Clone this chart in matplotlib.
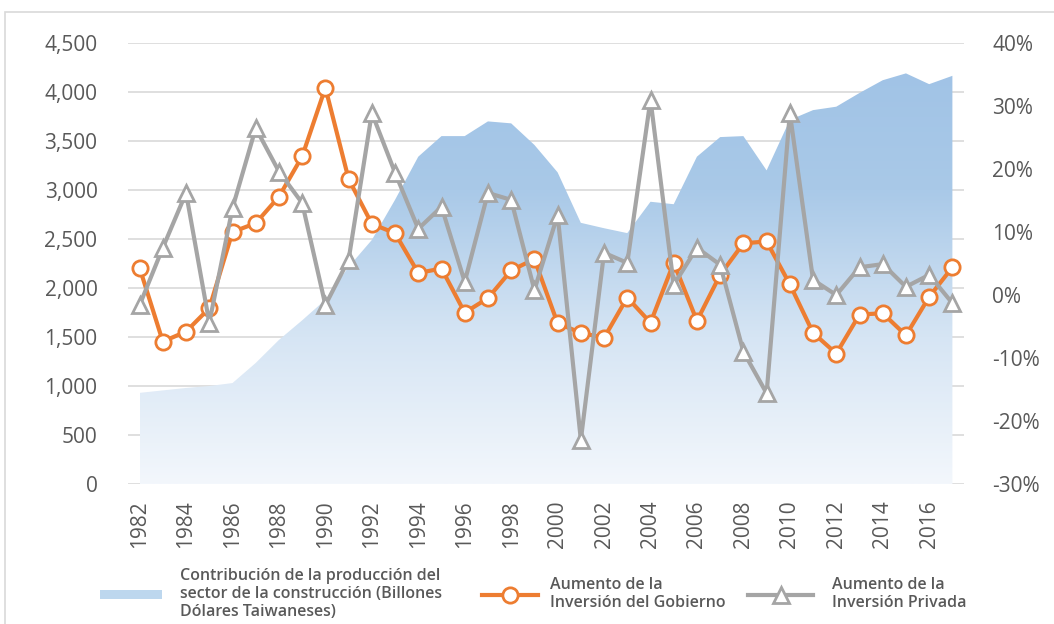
import matplotlib
matplotlib.use('Agg')
import numpy as np
import matplotlib.pyplot as plt
from matplotlib.lines import Line2D
from matplotlib.patches import Patch, Rectangle
from matplotlib.colors import LinearSegmentedColormap

plt.rcParams['font.family'] = ['Open Sans', 'DejaVu Sans']

years = list(range(1982, 2018))
produccion = [930, 955, 980, 1000, 1030, 1235, 1470, 1670, 1880, 2215, 2490, 2900,
              3340, 3550, 3550, 3700, 3680, 3460, 3180, 2665, 2610, 2560, 2880, 2855,
              3340, 3540, 3550, 3200, 3715, 3815, 3850, 3990, 4120, 4190, 4080, 4165]
gobierno = [4.3, -7.4, -5.8, -2.1, 10.0, 11.4, 15.6, 22.0, 32.9, 18.4, 11.3, 9.8,
            3.5, 4.2, -2.8, -0.5, 3.9, 5.7, -4.5, -6.0, -6.8, -0.4, -4.4, 5.1,
            -4.1, 3.2, 8.2, 8.5, 1.7, -6.0, -9.3, -3.1, -2.9, -6.4, -0.3, 4.4]
privada = [-1.6, 7.5, 16.2, -4.4, 13.8, 26.5, 19.6, 14.6, -1.6, 5.6, 28.9, 19.4,
           10.5, 14.0, 2.1, 16.2, 15.1, 0.8, 12.7, -23.0, 6.7, 5.1, 31.0, 1.6,
           7.5, 4.8, -9.0, -15.6, 28.9, 2.4, 0.0, 4.4, 4.9, 1.3, 3.2, -1.3]

left_ticks = list(range(0, 4501, 500))
right_ticks = list(range(-30, 41, 10))

lbl_area = 'Contribución de la producción del\nsector de la construcción (Billones\nDólares Taiwaneses)'
lbl_gob = 'Aumento de la\nInversión del Gobierno'
lbl_priv = 'Aumento de la\nInversión Privada'

naranja = '#ed7d31'
gris = '#a5a5a5'
texto = '#595959'

fig = plt.figure(figsize=(10.54, 6.24), dpi=100)
ax = fig.add_axes([128/1054, 1-484/624, (964-128)/1054, (484-43)/624])
ax2 = ax.twinx()

# area con degradado
poly = ax.fill_between(years, produccion, 0, color='none', lw=0, zorder=2)
cmap = LinearSegmentedColormap.from_list('azul', ['#f3f7fc', '#d6e5f4', '#a9c9e8', '#9fc2e6'])
grad = np.linspace(0, 1, 256).reshape(-1, 1)
img = ax.imshow(grad, cmap=cmap, origin='lower', aspect='auto',
                extent=(years[0], years[-1], 0, 4500), zorder=2)
img.set_clip_path(poly.get_paths()[0], transform=ax.transData)

ax.set_xlim(years[0] - 0.5, years[-1] + 0.5)
ax.set_ylim(0, 4500)
ax.set_yticks(left_ticks)
ax.set_yticklabels([f'{v:,}' for v in left_ticks])
ax.set_xticks(years[::2])
ax.set_xticklabels([str(y) for y in years[::2]], rotation=90)
ax.grid(axis='y', color='#d9d9d9', lw=1.2, zorder=1)
ax.set_axisbelow(True)

ax2.plot(years, gobierno, color=naranja, lw=3, marker='o', ms=11,
         mfc='white', mec=naranja, mew=2, zorder=3)
ax2.plot(years, privada, color=gris, lw=3, marker='^', ms=12,
         mfc='white', mec=gris, mew=2, zorder=4)
ax2.set_ylim(-30, 40)
ax2.set_yticks(right_ticks)
ax2.set_yticklabels([f'{v}%' for v in right_ticks])

for a in (ax, ax2):
    for s in a.spines.values():
        s.set_visible(False)
    a.tick_params(length=0, labelsize=15, labelcolor=texto)
ax.tick_params(axis='y', pad=22)
ax.tick_params(axis='x', pad=12)
ax2.tick_params(axis='y', pad=20.5)

# leyenda
fy = 1 - 594/624
entradas = [
    (Patch(facecolor='#bdd7ee', edgecolor='none'), lbl_area, 100, 62, 18),
    (Line2D([], [], color=naranja, lw=3, marker='o', ms=11, mfc='white', mec=naranja, mew=2), lbl_gob, 482, 56, 12),
    (Line2D([], [], color=gris, lw=3, marker='^', ms=12, mfc='white', mec=gris, mew=2), lbl_priv, 748, 65, 19),
]
fs = 11.5
px = fs * 100 / 72
for h, lbl, x0, hl, pad in entradas:
    fig.legend([h], [lbl], loc='center left', bbox_to_anchor=(x0/1054, fy),
               frameon=False, prop={'size': fs, 'weight': 'semibold'},
               borderpad=0, borderaxespad=0,
               handlelength=hl/px, handleheight=7/px, handletextpad=pad/px,
               labelcolor=texto, labelspacing=0)

fig.add_artist(Rectangle((5/1054, -0.01), 1, 1 - 12/624 + 0.01, fill=False,
                         ec='#d9d9d9', lw=1.2, transform=fig.transFigure))

fig.savefig('out.png', dpi=100)
